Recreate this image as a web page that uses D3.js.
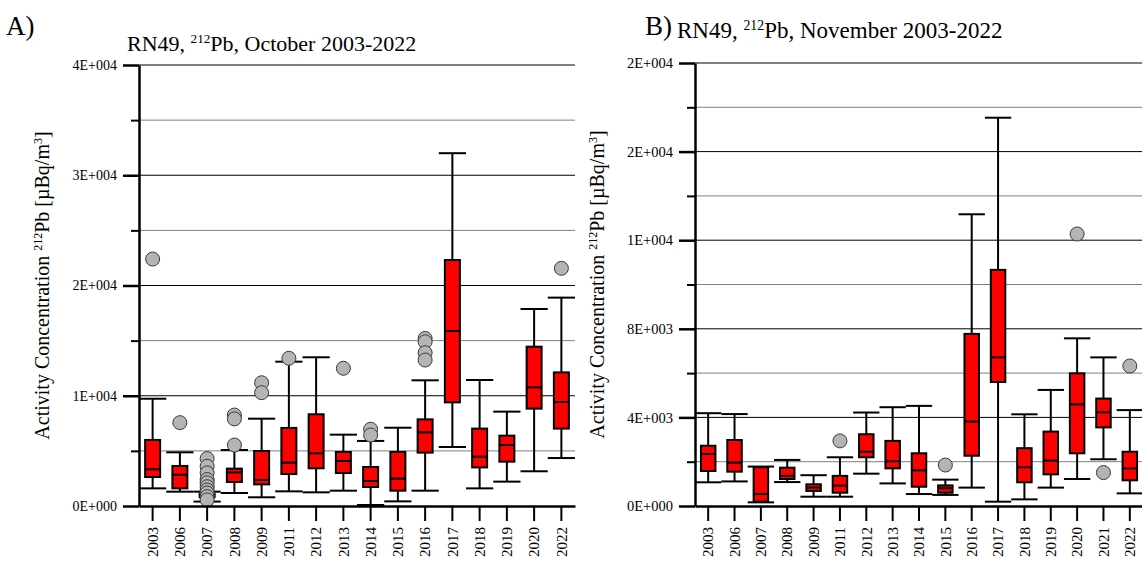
<!DOCTYPE html>
<html>
<head>
<meta charset="utf-8">
<script src="https://cdn.jsdelivr.net/npm/d3@7"></script>
<style>
  body { margin: 0; background: #fff; }
  svg { display: block; font-family: "Liberation Serif", "Times New Roman", serif; }
  .tick text { font-family: "Liberation Serif", "Times New Roman", serif; }
</style>
</head>
<body>
<div id="chart"></div>
<script>
// October (panel A)
const octYears = ['2003','2006','2007','2008','2009','2011','2012','2013','2014','2015','2016','2017','2018','2019','2020','2022'];
const octLow  = [1600, 1300, 400, 1180, 790, 1330, 1240, 1390, 90, 420, 1390, 5350, 1600, 2210, 3150, 4350];
const octQ1   = [2630, 1600, 800, 2180, 1960, 2900, 3420, 2990, 1720, 1390, 4840, 9400, 3500, 4020, 8830, 7020];
const octMed  = [3330, 2840, 950, 3050, 2360, 3930, 4780, 4080, 2270, 2480, 6680, 15870, 4480, 5530, 10760, 9430];
const octQ3   = [5990, 3630, 1100, 3390, 4990, 7080, 8320, 4900, 3540, 4900, 7860, 22310, 7020, 6380, 14450, 12120];
const octHigh = [9730, 4870, 1300, 5080, 7920, 13090, 13490, 6470, 5900, 7100, 11400, 32000, 11430, 8560, 17870, 18900];
const octOutliers = [[22400], [7560], [4300, 3600, 3000, 2400, 2100, 1750, 1450, 1180, 850, 550], [8250, 7900, 5530], [11180, 10280], [13400], [], [12490], [6960, 6440], [], [15200, 14900, 13900, 13240], [], [], [], [], [21560]];
const octTicks = [0, 10000, 20000, 30000, 40000];

// November (panel B)
const novYears = ['2003','2006','2007','2008','2009','2011','2012','2013','2014','2015','2016','2017','2018','2019','2020','2021','2022'];
const novLow  = [1070, 1110, 165, 1080, 420, 420, 1460, 1020, 540, 500, 830, 195, 300, 830, 1220, 2110, 570];
const novQ1   = [1580, 1550, 195, 1220, 680, 600, 2200, 1700, 870, 600, 2270, 5600, 1070, 1430, 2380, 3550, 1160];
const novMed  = [2350, 1960, 540, 1360, 830, 920, 2450, 2020, 1610, 800, 3810, 6710, 1750, 2050, 4590, 4230, 1700];
const novQ3   = [2720, 2980, 1750, 1730, 980, 1360, 3240, 2940, 2380, 930, 7770, 10660, 2610, 3360, 5990, 4850, 2450];
const novHigh = [4190, 4150, 1780, 2080, 1390, 2200, 4220, 4460, 4520, 1190, 13170, 17530, 4140, 5240, 7570, 6710, 4330];
const novOutliers = [[], [], [], [], [], [2940], [], [], [], [1850], [], [], [], [], [12280], [1510], [6320]];
const novTicks = [0, 4000, 8000, 12000, 16000, 20000];

const width = 1142;
const height = 562;
const serif = '"Liberation Serif", "Times New Roman", serif';

const svg = d3.select('#chart')
    .append('svg')
    .attr('width', width)
    .attr('height', height);

// 4E+004 style labels, one significant digit like the original
function expFmt(v) {
    if (v === 0) return '0E+000';
    let e = Math.floor(Math.log10(v));
    let m = Math.round(v / Math.pow(10, e));
    if (m === 10) { m = 1; e += 1; }
    return m + 'E+' + String(e).padStart(3, '0');
}

function drawPanel(p) {
    const rows = p.years.map((y, i) => ({
        year: y, low: p.low[i], q1: p.q1[i], med: p.med[i], q3: p.q3[i], high: p.high[i], out: p.outliers[i]
    }));

    const x = d3.scaleBand().domain(p.years).range([p.left, p.right]);
    const y = d3.scaleLinear().domain([0, p.max]).range([p.bottom, p.top]);
    const bw = x.bandwidth();

    const g = svg.append('g');

    // grid lines, major black, minor grey
    const grid = d3.range(p.minorStep, p.max + 1, p.minorStep);
    g.selectAll('.grid')
        .data(grid)
        .enter()
        .append('line')
        .attr('x1', p.left)
        .attr('x2', p.right)
        .attr('y1', d => y(d))
        .attr('y2', d => y(d))
        .attr('stroke', d => (d % p.majorStep === 0) ? '#000' : '#808080')
        .attr('stroke-width', 1);

    // whiskers
    g.selectAll('.stem')
        .data(rows)
        .enter()
        .append('line')
        .attr('x1', d => x(d.year) + bw / 2)
        .attr('x2', d => x(d.year) + bw / 2)
        .attr('y1', d => y(d.low))
        .attr('y2', d => y(d.high))
        .attr('stroke', '#000')
        .attr('stroke-width', 2);

    ['low', 'high'].forEach(k => {
        g.selectAll('.cap-' + k)
            .data(rows)
            .enter()
            .append('line')
            .attr('x1', d => x(d.year))
            .attr('x2', d => x(d.year) + bw)
            .attr('y1', d => y(d[k]))
            .attr('y2', d => y(d[k]))
            .attr('stroke', '#000')
            .attr('stroke-width', 2);
    });

    // boxes
    const boxW = bw * 0.55;
    g.selectAll('.box')
        .data(rows)
        .enter()
        .append('rect')
        .attr('x', d => x(d.year) + (bw - boxW) / 2)
        .attr('y', d => y(d.q3))
        .attr('width', boxW)
        .attr('height', d => y(d.q1) - y(d.q3))
        .attr('fill', '#ff0000')
        .attr('stroke', '#000')
        .attr('stroke-width', 2);

    g.selectAll('.median')
        .data(rows)
        .enter()
        .append('line')
        .attr('x1', d => x(d.year) + (bw - boxW) / 2)
        .attr('x2', d => x(d.year) + (bw + boxW) / 2)
        .attr('y1', d => y(d.med))
        .attr('y2', d => y(d.med))
        .attr('stroke', '#000')
        .attr('stroke-width', 2);

    // outliers
    const pts = [];
    rows.forEach(r => r.out.forEach(v => pts.push({ year: r.year, v: v })));
    g.selectAll('.outlier')
        .data(pts)
        .enter()
        .append('circle')
        .attr('cx', d => x(d.year) + bw / 2)
        .attr('cy', d => y(d.v))
        .attr('r', 7)
        .attr('fill', '#b4b4b4')
        .attr('stroke', '#3a3a3a')
        .attr('stroke-width', 1);

    // y axis
    const minorTicks = grid.filter(d => d % p.majorStep !== 0);
    g.append('g')
        .attr('transform', `translate(${p.left},0)`)
        .call(d3.axisLeft(y).tickValues(minorTicks).tickSize(8).tickSizeOuter(0).tickFormat(''))
        .call(a => a.select('.domain').remove())
        .selectAll('line').attr('stroke-width', 2);

    const yAx = g.append('g')
        .attr('transform', `translate(${p.left},0)`)
        .call(d3.axisLeft(y).tickValues(p.ticks).tickSize(16).tickSizeOuter(0).tickPadding(6).tickFormat(expFmt))
        .attr('font-size', p.tickFont)
        .attr('font-family', serif);
    yAx.select('.domain').attr('stroke-width', 2.5);
    yAx.selectAll('line').attr('stroke-width', 2.5);
    yAx.selectAll('text')
        .attr('font-size', p.tickFont)
        .style('font-size', p.tickFont + 'px')
        .attr('fill', '#000');

    // x axis
    const xAx = g.append('g')
        .attr('transform', `translate(0,${p.bottom})`)
        .call(d3.axisBottom(x).tickSize(15).tickSizeOuter(0))
        .attr('font-size', 15)
        .attr('font-family', serif);
    xAx.select('.domain').attr('stroke-width', 2.5);
    xAx.selectAll('line').attr('stroke-width', 2);
    xAx.selectAll('text')
        .attr('transform', 'rotate(-90)')
        .attr('x', -21)
        .attr('y', 0)
        .attr('dy', '0.35em')
        .attr('text-anchor', 'end')
        .attr('fill', '#000');

    // y label
    const yl = g.append('text')
        .attr('transform', `translate(${p.labelX}, ${(p.top + p.bottom) / 2}) rotate(-90)`)
        .attr('text-anchor', 'middle')
        .attr('font-size', 20);
    yl.append('tspan').text('Activity Concentration ');
    yl.append('tspan').text('212').attr('font-size', 12).attr('dy', '-7');
    yl.append('tspan').text('Pb [\u00b5Bq/m').attr('dy', '7');
    yl.append('tspan').text('3').attr('font-size', 12).attr('dy', '-7');
    yl.append('tspan').text(']').attr('dy', '7');

    // title
    const t = g.append('text')
        .attr('x', p.titleX)
        .attr('y', p.titleY)
        .attr('font-size', p.titleFont);
    t.append('tspan').text('RN49, ');
    t.append('tspan').text('212').attr('font-size', p.titleFont * 0.6).attr('dy', '-8');
    t.append('tspan').text('Pb, ' + p.month + ' 2003-2022').attr('dy', '8');

    g.append('text')
        .attr('x', p.letterX)
        .attr('y', 35)
        .attr('font-size', 27)
        .text(p.letter);
}

drawPanel({
    years: octYears, low: octLow, q1: octQ1, med: octMed, q3: octQ3, high: octHigh, outliers: octOutliers,
    ticks: octTicks, max: 40000, majorStep: 10000, minorStep: 5000,
    left: 139, right: 575, top: 65, bottom: 506,
    labelX: 49, titleX: 127, titleY: 51, titleFont: 22, tickFont: 14,
    month: 'October', letter: 'A)', letterX: 6
});

drawPanel({
    years: novYears, low: novLow, q1: novQ1, med: novMed, q3: novQ3, high: novHigh, outliers: novOutliers,
    ticks: novTicks, max: 20000, majorStep: 4000, minorStep: 2000,
    left: 695, right: 1143, top: 63, bottom: 506,
    labelX: 604, titleX: 677, titleY: 38, titleFont: 23, tickFont: 14.5,
    month: 'November', letter: 'B)', letterX: 645
});
</script>
</body>
</html>
